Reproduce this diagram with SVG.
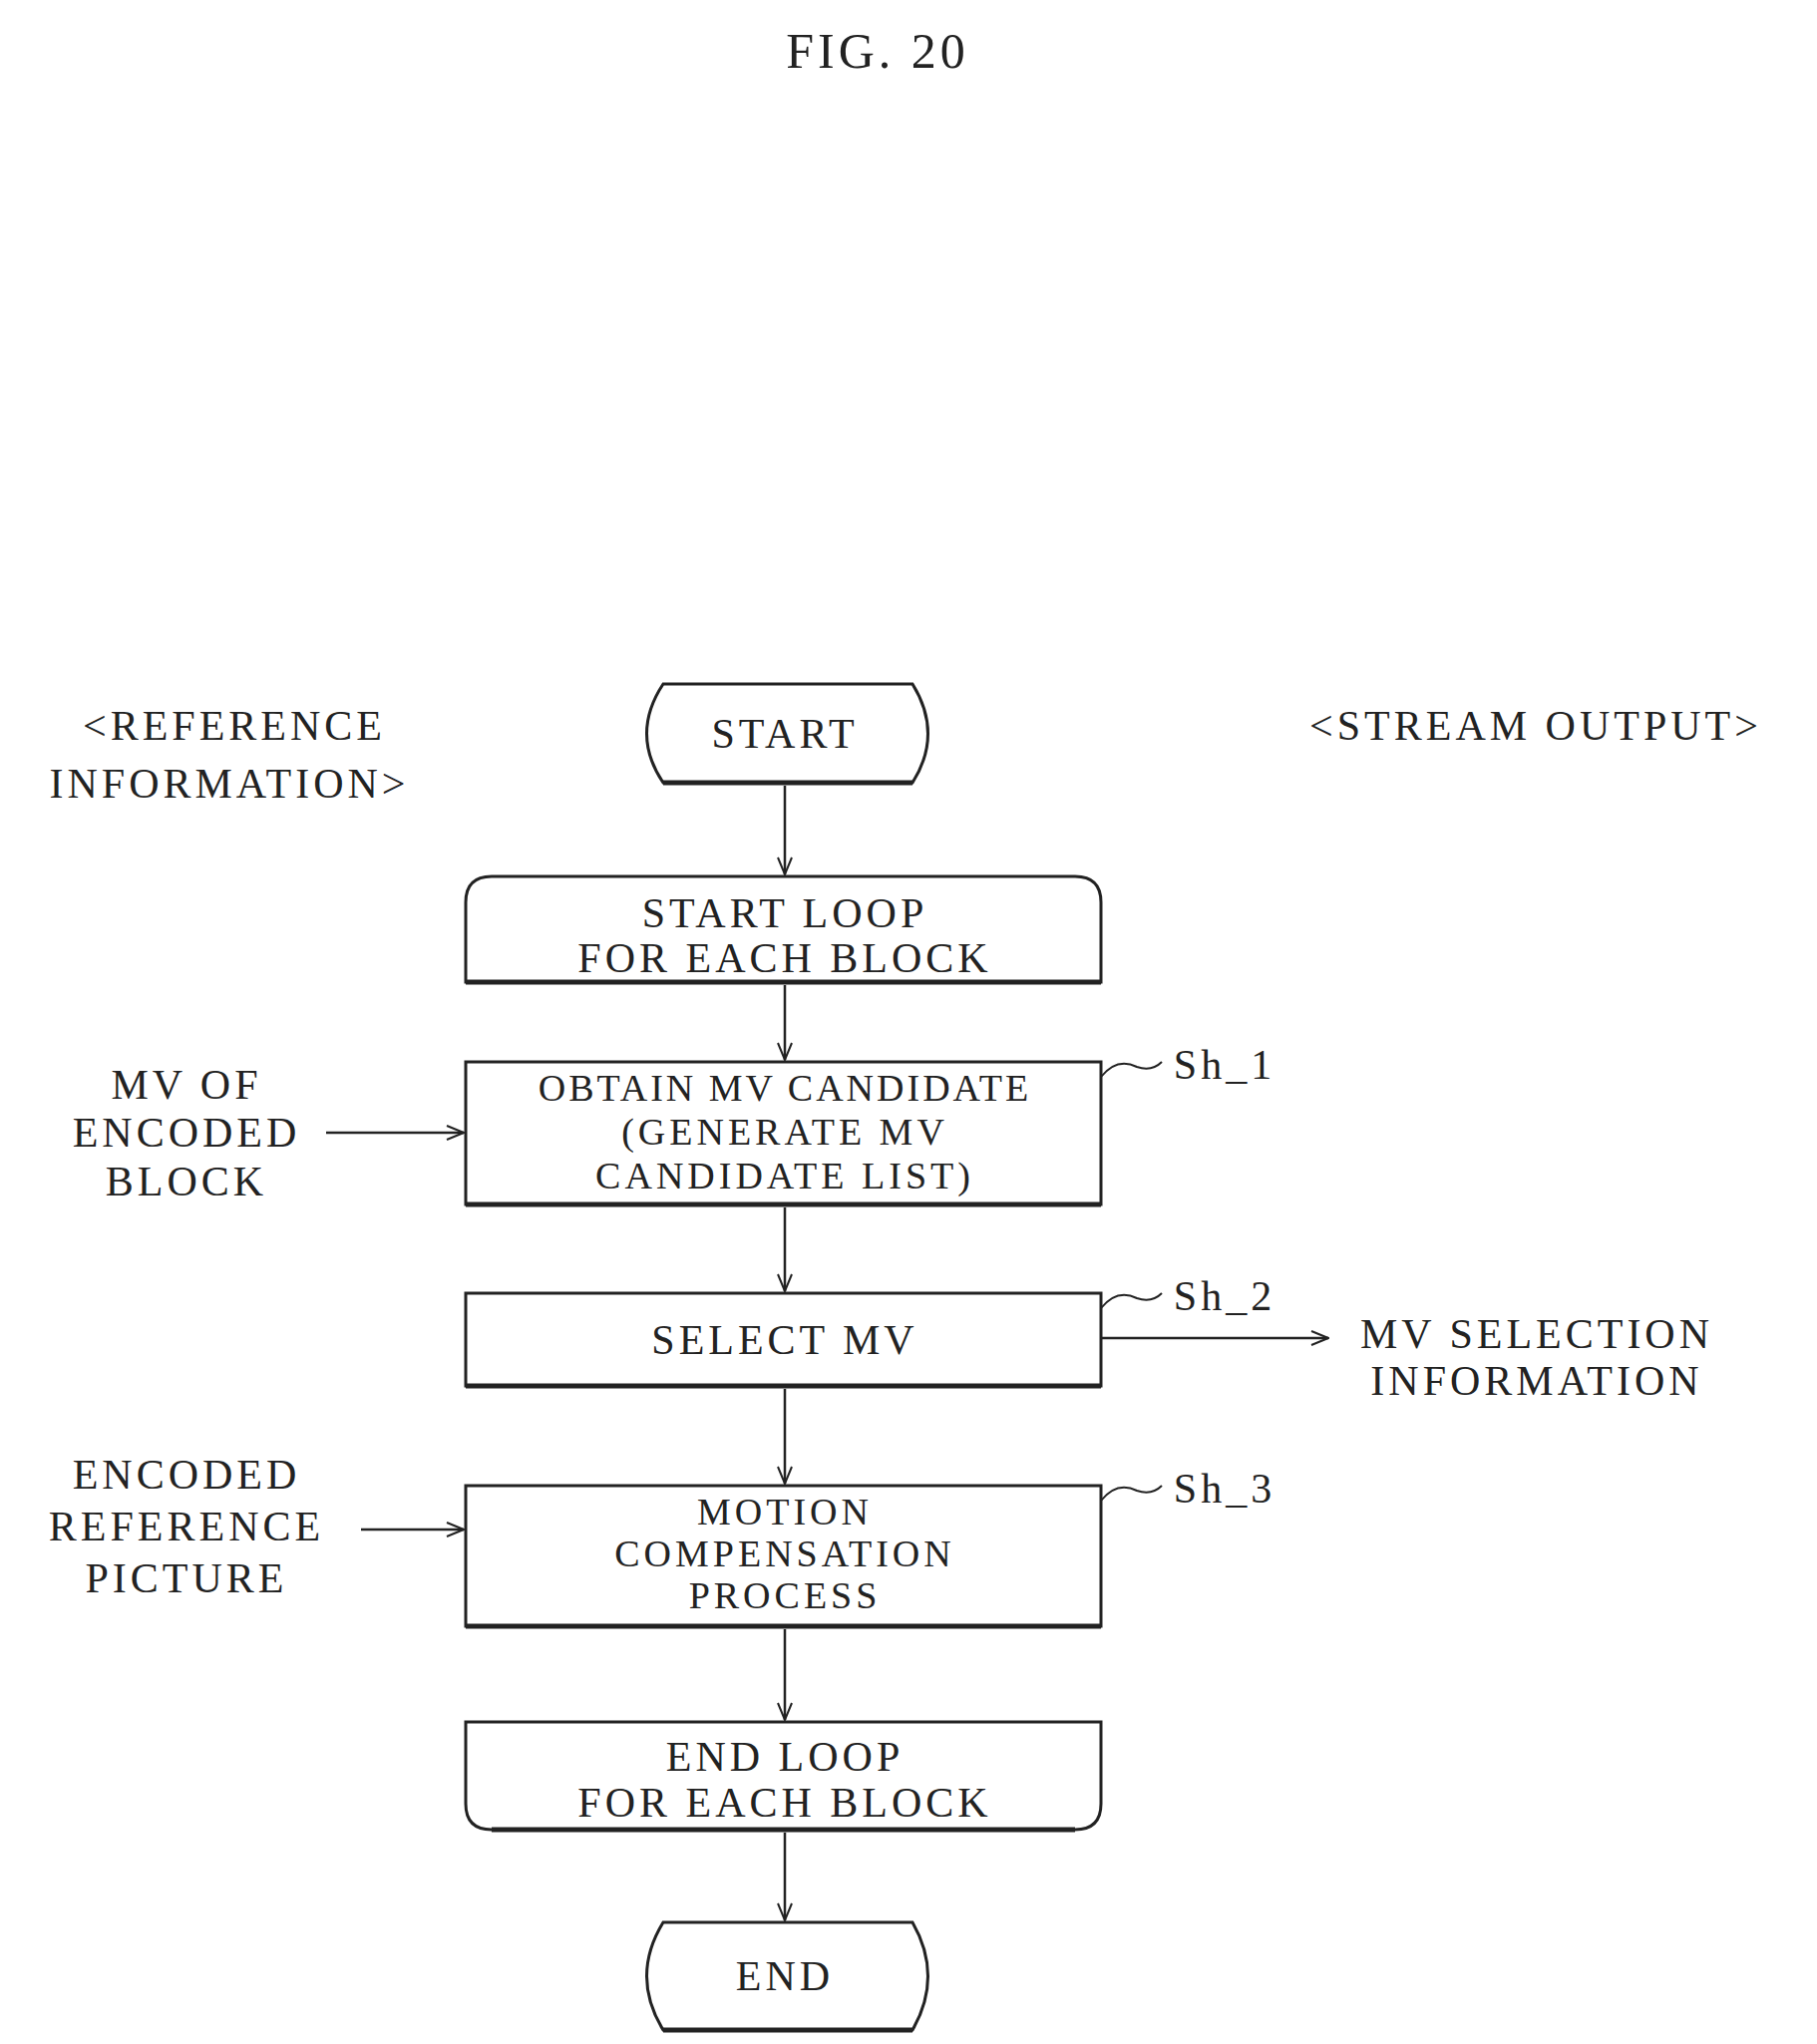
<svg xmlns="http://www.w3.org/2000/svg" width="1822" height="2050" viewBox="0 0 1822 2050">
<defs>
<marker id="ah" viewBox="0 0 20 20" refX="19" refY="10" markerWidth="20" markerHeight="20" markerUnits="userSpaceOnUse" orient="auto">
<path d="M2,3 L19,10 L2,17" fill="none" stroke="#222" stroke-width="2"/>
</marker>
<style>
text{font-family:"Liberation Serif","DejaVu Serif",serif;font-size:42px;letter-spacing:4px;fill:#222;text-anchor:middle}
.s{font-size:38px}
.box{fill:#fff;stroke:#222;stroke-width:3}
.sh{fill:none;stroke:#222;stroke-width:5}
.c{fill:none;stroke:#222;stroke-width:2.5}
.lead{fill:none;stroke:#222;stroke-width:2}
</style>
</defs>
<rect width="1822" height="2050" fill="#fff"/>
<text x="880" y="68" style="font-size:50px">FIG. 20</text>
<text x="235" y="742">&lt;REFERENCE</text>
<text x="230" y="800">INFORMATION&gt;</text>
<text x="1540" y="742">&lt;STREAM OUTPUT&gt;</text>

<g id="start">
<path class="box" d="M665,686 L915,686 Q946,736 915,785 L665,785 Q632,736 665,686 Z"/>
<path class="sh" d="M665,785 L915,785"/>
<text x="787" y="750">START</text>
</g>
<g id="loopstart">
<path class="box" d="M467,985 L467,905 Q467,879 493,879 L1078,879 Q1104,879 1104,905 L1104,985 Z"/>
<path class="sh" d="M467,985 L1104,985"/>
<text x="787" y="930">START LOOP</text>
<text x="787" y="975">FOR EACH BLOCK</text>
</g>
<g id="sh1">
<rect class="box" x="467" y="1065" width="637" height="143"/>
<path class="sh" d="M467,1208 L1104,1208"/>
<text class="s" x="787" y="1104" style="letter-spacing:3px">OBTAIN MV CANDIDATE</text>
<text class="s" x="787" y="1148">(GENERATE MV</text>
<text class="s" x="787" y="1192">CANDIDATE LIST)</text>
<path class="lead" d="M1104,1080 Q1120,1060 1140,1070 Q1155,1075 1165,1065"/>
<text x="1228" y="1082">Sh_1</text>
</g>
<g id="sh2">
<rect class="box" x="467" y="1297" width="637" height="93"/>
<path class="sh" d="M467,1390 L1104,1390"/>
<text x="787" y="1358">SELECT MV</text>
<path class="lead" d="M1104,1312 Q1120,1292 1140,1302 Q1155,1307 1165,1297"/>
<text x="1228" y="1314">Sh_2</text>
</g>
<g id="sh3">
<rect class="box" x="467" y="1490" width="637" height="141"/>
<path class="sh" d="M467,1631 L1104,1631"/>
<text class="s" x="787" y="1529">MOTION</text>
<text class="s" x="787" y="1571">COMPENSATION</text>
<text class="s" x="787" y="1613">PROCESS</text>
<path class="lead" d="M1104,1505 Q1120,1485 1140,1495 Q1155,1500 1165,1490"/>
<text x="1228" y="1507">Sh_3</text>
</g>
<g id="loopend">
<path class="box" d="M467,1727 L1104,1727 L1104,1809 Q1104,1835 1078,1835 L493,1835 Q467,1835 467,1809 Z"/>
<path class="sh" d="M493,1835 L1078,1835"/>
<text x="787" y="1776">END LOOP</text>
<text x="787" y="1822">FOR EACH BLOCK</text>
</g>
<g id="end">
<path class="box" d="M665,1928 L915,1928 Q946,1982 915,2036 L665,2036 Q632,1982 665,1928 Z"/>
<path class="sh" d="M665,2036 L915,2036"/>
<text x="787" y="1996">END</text>
</g>
<g id="labels">
<text x="187" y="1102">MV OF</text>
<text x="187" y="1150">ENCODED</text>
<text x="187" y="1199">BLOCK</text>
<text x="187" y="1493">ENCODED</text>
<text x="187" y="1545">REFERENCE</text>
<text x="187" y="1597">PICTURE</text>
<text x="1541" y="1352">MV SELECTION</text>
<text x="1541" y="1399">INFORMATION</text>
</g>
<g id="connectors">
<path class="c" marker-end="url(#ah)" d="M787,788 L787,877"/>
<path class="c" marker-end="url(#ah)" d="M787,988 L787,1063"/>
<path class="c" marker-end="url(#ah)" d="M787,1211 L787,1295"/>
<path class="c" marker-end="url(#ah)" d="M787,1393 L787,1488"/>
<path class="c" marker-end="url(#ah)" d="M787,1634 L787,1725"/>
<path class="c" marker-end="url(#ah)" d="M787,1838 L787,1926"/>
<path class="c" marker-end="url(#ah)" d="M327,1136 L465,1136"/>
<path class="c" marker-end="url(#ah)" d="M362,1534 L465,1534"/>
<path class="c" marker-end="url(#ah)" d="M1104,1342 L1332,1342"/>
</g>
</svg>
